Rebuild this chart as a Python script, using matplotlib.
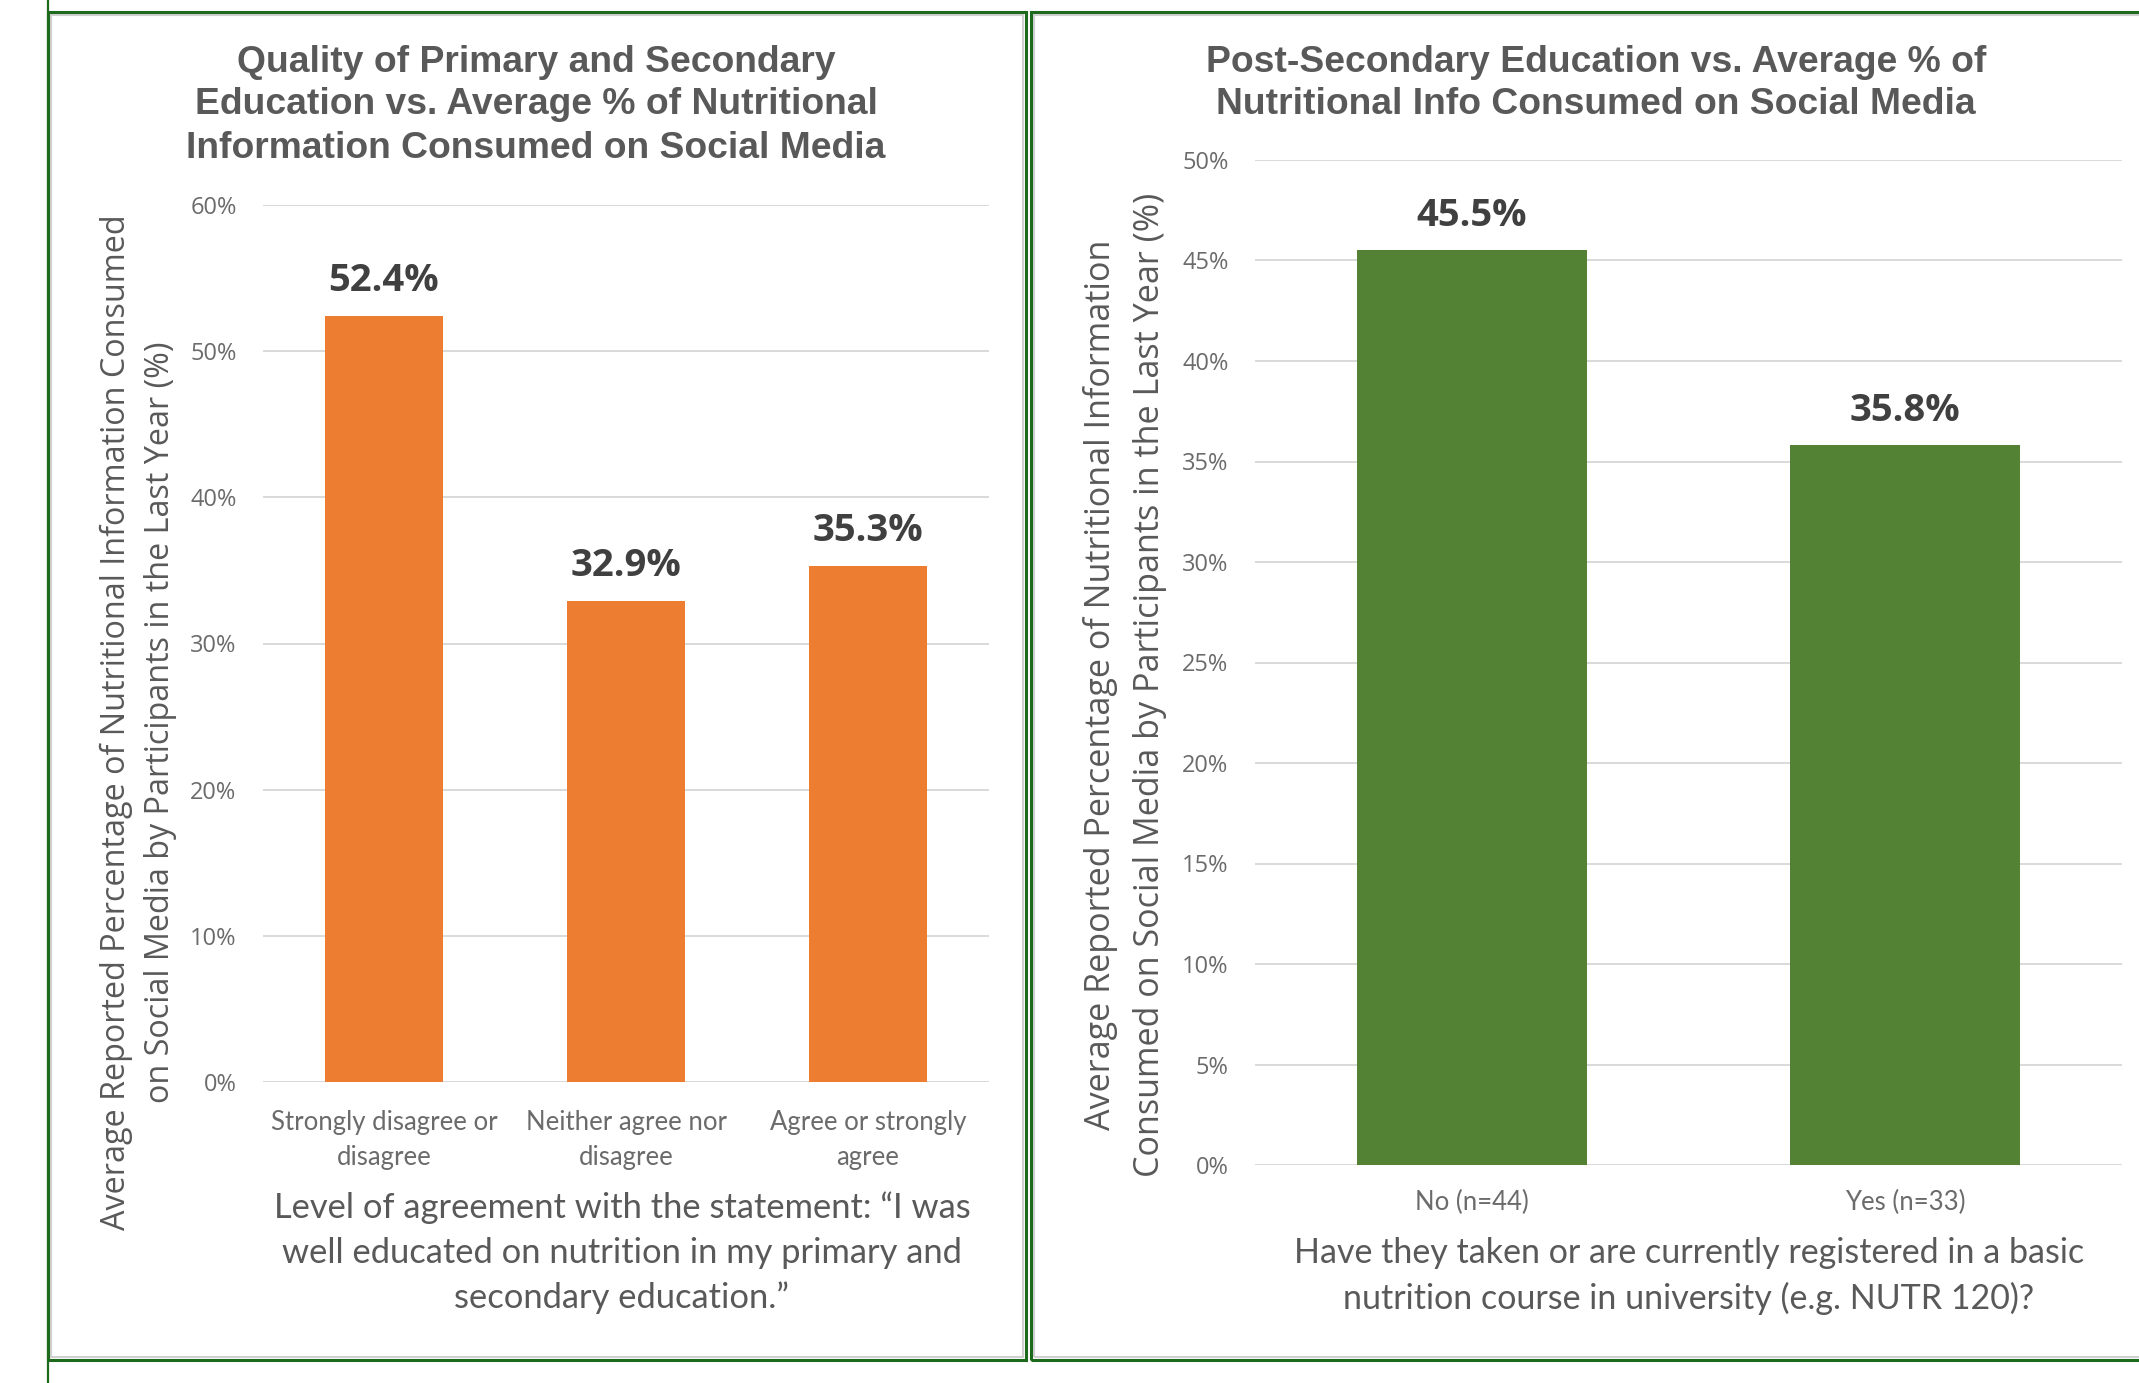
import matplotlib
matplotlib.use("Agg")
import matplotlib.pyplot as plt
from matplotlib.patches import Rectangle
from matplotlib.lines import Line2D

# ---- data ----
agree_levels = ["Strongly disagree or\ndisagree", "Neither agree nor\ndisagree", "Agree or strongly\nagree"]
agree_pct = [52.4, 32.9, 35.3]

course_groups = ["No (n=44)", "Yes (n=33)"]
course_pct = [45.5, 35.8]

left_ticks = [0, 10, 20, 30, 40, 50, 60]
right_ticks = [0, 5, 10, 15, 20, 25, 30, 35, 40, 45, 50]

left_title = ["Quality of Primary and Secondary",
              "Education vs. Average % of Nutritional",
              "Information Consumed on Social Media"]
right_title = ["Post-Secondary Education vs. Average % of",
               "Nutritional Info Consumed on Social Media"]
left_ylabel = ["Average Reported Percentage of Nutritional Information Consumed",
               "on Social Media by Participants in the Last Year (%)"]
right_ylabel = ["Average Reported Percentage of Nutritional Information",
                "Consumed on Social Media by Participants in the Last Year (%)"]
left_xlabel = ["Level of agreement with the statement: \u201cI was",
               "well educated on nutrition in my primary and",
               "secondary education.\u201d"]
right_xlabel = ["Have they taken or are currently registered in a basic",
                "nutrition course in university (e.g. NUTR 120)?"]

# ---- styling ----
W, H = 2139, 1383
ORANGE = "#ED7D31"
GREEN = "#548235"
FRAME = "#1d6a1d"
GRID = "#d9d9d9"
TITLE_C = "#595959"
TICK_C = "#6b6b6b"
LABEL_C = "#404040"

fig = plt.figure(figsize=(W / 100, H / 100), dpi=100)
fig.patch.set_facecolor("white")


def fx(x):
    return x / W


def fy(y):
    return 1 - y / H


def put(x, y, s, **kw):
    fig.text(fx(x), fy(y), s, ha="center", va="center", **kw)


# panel frames
fig.add_artist(Line2D([fx(48), fx(48)], [0, 1], color=FRAME, lw=1.6))
for x0, x1 in [(48, 1026), (1031, 2150)]:
    fig.add_artist(Rectangle((fx(x0 + 3), fy(1357)), fx(x1 - x0 - 6), (1357 - 15) / H,
                             fill=False, ec="#d0d0d0", lw=1.5))
    fig.add_artist(Rectangle((fx(x0), fy(1360)), fx(x1 - x0), (1360 - 12) / H,
                             fill=False, ec=FRAME, lw=2.2))


def style_axes(ax, ticks, ymax):
    ax.set_ylim(0, ymax)
    ax.set_yticks(ticks)
    ax.set_yticklabels([f"{t}%" for t in ticks], fontfamily="Open Sans",
                       fontsize=17, color=TICK_C)
    ax.tick_params(axis="y", length=0, pad=19)
    ax.tick_params(axis="x", length=0)
    ax.grid(axis="y", color=GRID, lw=1.4)
    ax.set_axisbelow(True)
    for sp in ax.spines.values():
        sp.set_visible(False)


# ---- left chart ----
axl = fig.add_axes([fx(263), fy(1082), (989 - 263) / W, (1082 - 205) / H])
xl = range(len(agree_levels))
bl = axl.bar(xl, agree_pct, width=0.49, color=ORANGE, zorder=2)
axl.set_xlim(-0.5, len(agree_levels) - 0.5)
style_axes(axl, left_ticks, 60)
axl.set_xticks(list(xl))
axl.set_xticklabels(agree_levels, fontfamily="Lato", fontsize=18.5, color=TICK_C,
                    linespacing=1.5)
axl.tick_params(axis="x", pad=20)
for rect, v in zip(bl, agree_pct):
    axl.annotate(f"{v:.1f}%", (rect.get_x() + rect.get_width() / 2, v),
                 xytext=(0, 25), textcoords="offset points", ha="center", va="center",
                 fontfamily="Open Sans", fontweight="bold", fontsize=27.5, color=LABEL_C)

for s, y in zip(left_title, [63, 105, 149]):
    put(536, y, s, fontfamily="Liberation Sans", fontweight="bold", fontsize=26.8, color=TITLE_C)
for s, x in zip(left_ylabel, [116, 161]):
    put(x, 722, s, rotation=90, fontfamily="Open Sans", fontsize=23.3, color=TITLE_C)
for s, y in zip(left_xlabel, [1208, 1253, 1298]):
    put(622, y, s, fontfamily="Lato", fontsize=24.8, color=TITLE_C)

# ---- right chart ----
axr = fig.add_axes([fx(1255), fy(1165), (2122 - 1255) / W, (1165 - 160) / H])
xr = range(len(course_groups))
br = axr.bar(xr, course_pct, width=0.53, color=GREEN, zorder=2)
axr.set_xlim(-0.5, len(course_groups) - 0.5)
style_axes(axr, right_ticks, 50)
axr.set_xticks(list(xr))
axr.set_xticklabels(course_groups, fontfamily="Lato", fontsize=18.5, color=TICK_C)
axr.tick_params(axis="x", pad=18)
for rect, v in zip(br, course_pct):
    axr.annotate(f"{v:.1f}%", (rect.get_x() + rect.get_width() / 2, v),
                 xytext=(0, 25), textcoords="offset points", ha="center", va="center",
                 fontfamily="Open Sans", fontweight="bold", fontsize=27.5, color=LABEL_C)

for s, y in zip(right_title, [63, 105]):
    put(1596, y, s, fontfamily="Liberation Sans", fontweight="bold", fontsize=26.8, color=TITLE_C)
for s, x in zip(right_ylabel, [1101, 1150]):
    put(x, 685, s, rotation=90, fontfamily="Open Sans", fontsize=24.6, color=TITLE_C)
for s, y in zip(right_xlabel, [1253, 1298]):
    put(1689, y, s, fontfamily="Lato", fontsize=24.5, color=TITLE_C)

fig.savefig("out.png", dpi=100, facecolor="white")
